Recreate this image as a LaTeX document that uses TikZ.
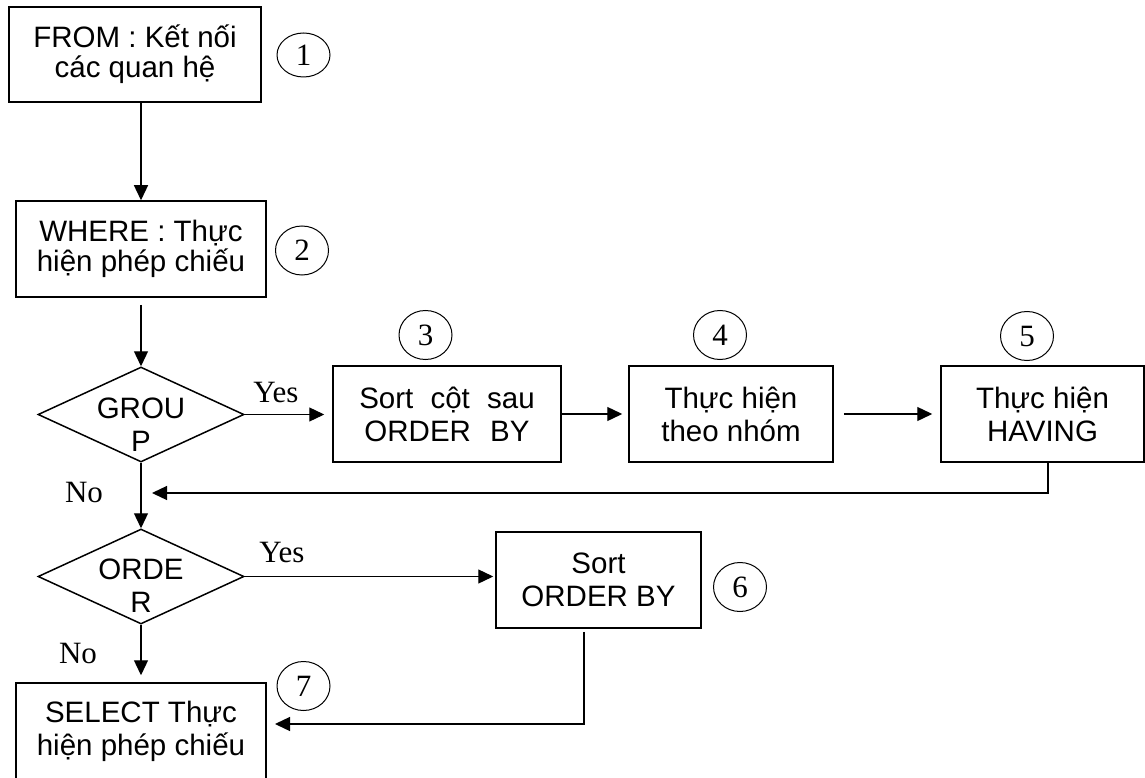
\documentclass[tikz,border=0pt]{standalone}
\usepackage{fontspec}
\setmainfont{Liberation Sans}
\newfontfamily\serifnum{Liberation Serif}
\usetikzlibrary{shapes.geometric,arrows.meta,calc}
\newcommand\boxfntA{\fontsize{29.5}{30}\selectfont}
\newcommand\boxfntB{\fontsize{29.5}{33}\selectfont}
\newcommand\numfnt{\serifnum\fontsize{31}{31}\selectfont}
\newcommand\lblfnt{\serifnum\fontsize{31}{31}\selectfont}
\begin{document}
\begin{tikzpicture}[x=1pt,y=-1pt,
  box/.style={draw, line width=1.5pt, rectangle, inner sep=0pt, align=center, font=\boxfntB},
  dec/.style={draw, diamond, line width=1.5pt, inner sep=0pt, minimum width=206pt, minimum height=95pt},
  decin/.style={align=center, font=\boxfntB, inner sep=0pt},
  num/.style={draw, ellipse, line width=1pt, minimum width=53pt, minimum height=49pt, inner sep=0pt, font=\numfnt},
  arr/.style={line width=1.3pt, -{Triangle[length=15pt,width=14pt]}},
  lbl/.style={font=\lblfnt, inner sep=0pt}]
\useasboundingbox (0,0) rectangle (1145,778);
\fill[white] (0,0) rectangle (1145,778);

\node[box, font=\boxfntA, minimum width=252pt, minimum height=95pt] (b1) at (135,54.5) {FROM : Kết nối\\các quan hệ};
\node[box, font=\boxfntA, minimum width=250pt, minimum height=96pt] (b2) at (141,249) {WHERE : Thực\\hiện phép chiếu};
\node[dec, label={[decin, yshift=-10pt]center:{GROU\\P}}] (d1) at (141,414.5) {};
\node[box, minimum width=228pt, minimum height=96pt] (b3) at (447,414) {Sort\hspace{9pt} cột\hspace{9pt} sau\\ORDER\hspace{11pt} BY};
\node[box, minimum width=204pt, minimum height=96pt] (b4) at (731,414) {Thực hiện\\theo nhóm};
\node[box, minimum width=203pt, minimum height=96pt] (b5) at (1042.5,414) {Thực hiện\\HAVING};
\node[dec, label={[decin, yshift=-9pt]center:{ORDE\\R}}] (d2) at (141,576.5) {};
\node[box, minimum width=205pt, minimum height=96pt] (b6) at (598.5,580) {Sort\\ORDER BY};
\node[box, minimum width=250pt, minimum height=96pt] (b7) at (141,731) {SELECT Thực\\hiện phép chiếu};

\node[num, minimum height=44pt] (n1) at (303.5,55) {1};
\node[num] (n2) at (302,250.5) {2};
\node[num] (n3) at (425.5,335) {3};
\node[num] (n4) at (720,335) {4};
\node[num] (n5) at (1027,336) {5};
\node[num] (n6) at (740,587) {6};
\node[num] (n7) at (303.5,686) {7};

\node[lbl] (yes1) at (276,392) {Yes};
\node[lbl] (no1) at (84,492) {No};
\node[lbl] (yes2) at (282,552) {Yes};
\node[lbl] (no2) at (78,653) {No};

\draw[arr] (b1.south -| b2.north) -- (b2.north);
\draw[arr] ($(b2.south)+(0,7)$) -- (d1.north);
\draw[arr, shorten >=8pt] (d1.east) -- (d1.east -| b3.west);
\draw[arr, shorten >=6pt] (b3.east) -- (b4.west);
\draw[arr, shorten <=10pt, shorten >=8pt] (b4.east) -- (b5.west);
\coordinate (fb1) at (1048,493);
\coordinate (fb2) at (152,493);
\draw[arr] (b5.south -| fb1) -- (fb1) -- (fb2);
\draw[arr] (d1.south) -- (d2.north);
\draw[arr, shorten >=2pt] (d2.east) -- (d2.east -| b6.west);
\draw[arr, shorten >=7pt] (d2.south) -- (b7.north);
\coordinate (fc1) at (584,724);
\coordinate (fc2) at (275,724);
\draw[arr] ($(b6.south -| fc1)+(0,3)$) -- (fc1) -- (fc2);
\end{tikzpicture}
\end{document}
